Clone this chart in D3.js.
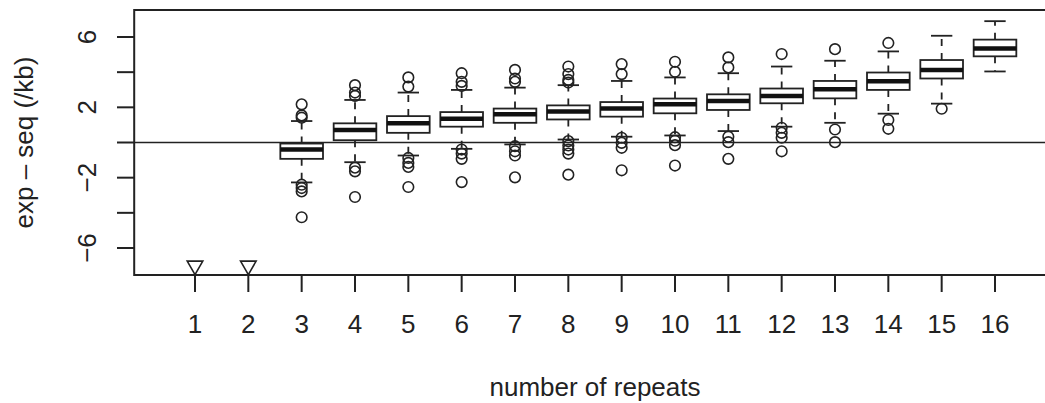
<!DOCTYPE html>
<html>
  <head>
    <meta charset="utf-8" />
    <title>exp - seq boxplot</title>
    <script src="https://cdn.jsdelivr.net/npm/d3@7"></script>
    <style>
      html, body {
        margin: 0;
        padding: 0;
        background: #fff;
      }
      svg {
        display: block;
      }
      text {
        font-family: "Liberation Sans", Arial, Helvetica, sans-serif;
        font-size: 26px;
        fill: #222;
      }
    </style>
  </head>
<body>
<svg id="chart" width="1045" height="403"></svg>

<script>

// groups that have a box
let groups   = [3, 4, 5, 6, 7, 8, 9, 10, 11, 12, 13, 14, 15, 16];
let whiskLo  = [-2.27, -1.12, -0.74, -0.36, -0.11, 0.17, 0.33, 0.40, 0.65, 0.90, 1.12, 1.64, 2.21, 4.04];
let q1       = [-0.93, 0.13, 0.55, 0.90, 1.12, 1.31, 1.47, 1.66, 1.85, 2.23, 2.51, 2.99, 3.64, 4.90];
let medians  = [-0.40, 0.71, 1.09, 1.35, 1.60, 1.77, 1.93, 2.17, 2.36, 2.65, 3.03, 3.49, 4.13, 5.35];
let q3       = [-0.06, 1.09, 1.50, 1.73, 1.93, 2.11, 2.30, 2.50, 2.74, 3.07, 3.50, 3.98, 4.69, 5.85];
let whiskHi  = [1.22, 2.42, 2.84, 2.99, 3.12, 3.26, 3.50, 3.70, 3.94, 4.32, 4.65, 5.18, 6.07, 6.90];
let outHi = [
  [2.17, 1.54, 1.41],
  [3.26, 2.84, 2.65],
  [3.70, 3.18],
  [3.94, 3.45, 3.22],
  [4.13, 3.64, 3.45],
  [4.32, 3.89, 3.56, 3.41],
  [4.46, 3.89],
  [4.59, 4.02],
  [4.84, 4.27],
  [5.03],
  [5.31],
  [5.66],
  [],
  []
];
let outLo = [
  [-2.40, -2.59, -2.78, -4.25],
  [-1.43, -1.64, -3.10],
  [-0.88, -1.16, -1.39, -2.53],
  [-0.40, -0.63, -0.93, -2.25],
  [-0.21, -0.50, -0.74, -1.98],
  [0.08, -0.17, -0.40, -0.63, -1.83],
  [0.27, -0.02, -0.30, -1.58],
  [0.30, 0.10, -0.15, -1.31],
  [0.33, 0.02, -0.93],
  [0.84, 0.55, 0.27, -0.50],
  [0.74, 0.02],
  [1.28, 0.78],
  [1.92],
  []
];

// groups drawn only as off-scale triangles
let triGroups = [1, 2];
let triValues = [-7.0, -7.0];

let xTicks = d3.range(1, 17);
let yTicks = [-6, -4, -2, 0, 2, 4, 6];
let yLabels = [-6, -2, 2, 6];

let svg = d3.select('#chart');

let x = d3.scaleLinear().domain([-0.14, 17.14]).range([134.2, 1055.8]);
let y = d3.scaleLinear().domain([-7.535, 7.535]).range([275, 10]);
let bw = (x(1) - x(0)) * 0.8;

let plot = svg.append('g');

// zero line
plot.append('line')
    .attr('x1', x.range()[0]).attr('x2', x.range()[1])
    .attr('y1', y(0)).attr('y2', y(0))
    .attr('stroke', '#222').attr('stroke-width', 1.6);

let box = plot.selectAll('g.box')
    .data(groups.map((g, i) => ({g: g, i: i})))
    .enter()
    .append('g')
    .attr('class', 'box')
    .attr('transform', d => 'translate(' + x(d.g) + ',0)');

// dashed whiskers
box.append('line')
   .attr('y1', d => y(q3[d.i])).attr('y2', d => y(whiskHi[d.i]))
   .attr('stroke', '#222').attr('stroke-width', 1.8).attr('stroke-dasharray', '7,7');
box.append('line')
   .attr('y1', d => y(q1[d.i])).attr('y2', d => y(whiskLo[d.i]))
   .attr('stroke', '#222').attr('stroke-width', 1.8).attr('stroke-dasharray', '7,7');

// caps
[whiskHi, whiskLo].forEach(arr => {
  box.append('line')
     .attr('x1', -bw / 4).attr('x2', bw / 4)
     .attr('y1', d => y(arr[d.i])).attr('y2', d => y(arr[d.i]))
     .attr('stroke', '#222').attr('stroke-width', 1.8);
});

box.append('rect')
   .attr('x', -bw / 2).attr('width', bw)
   .attr('y', d => y(q3[d.i]))
   .attr('height', d => y(q1[d.i]) - y(q3[d.i]))
   .attr('fill', '#fff').attr('stroke', '#222').attr('stroke-width', 1.8);

box.append('line')
   .attr('x1', -bw / 2).attr('x2', bw / 2)
   .attr('y1', d => y(medians[d.i])).attr('y2', d => y(medians[d.i]))
   .attr('stroke', '#111').attr('stroke-width', 4.5);

// outliers
box.selectAll('circle')
   .data(d => outHi[d.i].concat(outLo[d.i]))
   .enter()
   .append('circle')
   .attr('cy', v => y(v))
   .attr('r', 5.3)
   .attr('fill', 'none').attr('stroke', '#222').attr('stroke-width', 1.6);

// off-scale markers
plot.selectAll('path.tri')
    .data(triGroups)
    .enter()
    .append('path')
    .attr('class', 'tri')
    .attr('d', d3.symbol().type(d3.symbolTriangle).size(105))
    .attr('transform', (d, i) => 'translate(' + x(d) + ',' + y(triValues[i]) + ') rotate(180)')
    .attr('fill', 'none').attr('stroke', '#222').attr('stroke-width', 1.6);

// frame
let x0 = x.range()[0], x1 = x.range()[1];
plot.append('rect')
    .attr('x', x0).attr('y', 10)
    .attr('width', x1 - x0).attr('height', 265)
    .attr('fill', 'none').attr('stroke', '#222').attr('stroke-width', 2);

// x axis
let xa = svg.append('g');
xa.selectAll('line')
  .data(xTicks).enter().append('line')
  .attr('x1', d => x(d)).attr('x2', d => x(d))
  .attr('y1', 275).attr('y2', 292)
  .attr('stroke', '#222').attr('stroke-width', 2);
xa.selectAll('text')
  .data(xTicks).enter().append('text')
  .attr('x', d => x(d)).attr('y', 333)
  .attr('text-anchor', 'middle')
  .text(d => d);

// y axis
let ya = svg.append('g');
ya.selectAll('line')
  .data(yTicks).enter().append('line')
  .attr('x1', 117).attr('x2', x0)
  .attr('y1', d => y(d)).attr('y2', d => y(d))
  .attr('stroke', '#222').attr('stroke-width', 2);
ya.selectAll('text')
  .data(yLabels).enter().append('text')
  .attr('transform', d => 'translate(96,' + y(d) + ') rotate(-90)')
  .attr('text-anchor', 'middle')
  .text(d => d < 0 ? '\u2212' + Math.abs(d) : d);

// axis titles
svg.append('text')
   .attr('x', (x0 + x1) / 2).attr('y', 396)
   .attr('text-anchor', 'middle')
   .text('number of repeats');

svg.append('text')
   .attr('transform', 'translate(33,' + ((10 + 275) / 2) + ') rotate(-90)')
   .attr('text-anchor', 'middle')
   .text('exp \u2013 seq (/kb)');

</script>
</body>
</html>
